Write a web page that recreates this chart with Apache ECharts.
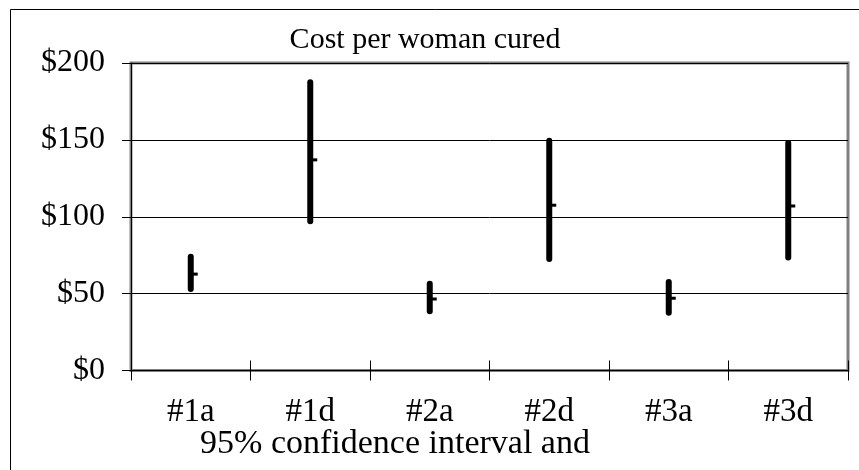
<!DOCTYPE html>
<html>
<head>
<meta charset="utf-8">
<script src="https://cdn.jsdelivr.net/npm/echarts@6/dist/echarts.min.js"></script>
<style>html,body{margin:0;padding:0;background:#fff;}#c{width:859px;height:470px;}</style>
</head>
<body>
<div id="c"></div>
<script>
var categories = ['#1a', '#1d', '#2a', '#2d', '#3a', '#3d'];
var lowValues = [53, 97, 38.5, 72.5, 37.5, 73.5];
var highValues = [74, 187.5, 56.5, 149.5, 57.5, 148];
var medianValues = [62.7, 137, 46.5, 107.5, 47, 107];
var yTicks = [0, 50, 100, 150, 200];

var FONT = '"Liberation Serif", "Times New Roman", serif';
var data = categories.map(function (c, i) {
  return [i, lowValues[i], highValues[i], medianValues[i]];
});

var chart = echarts.init(document.getElementById('c'), null, {renderer: 'canvas'});
var option = {
  backgroundColor: '#fff',
  animation: false,
  grid: {left: 131, right: 11, top: 63, bottom: 99.5, show: true, borderColor: '#808080', borderWidth: 3, backgroundColor: 'transparent'},
  xAxis: [{
    type: 'category', data: categories,
    axisLine: {lineStyle: {color: '#000', width: 1}},
    axisTick: {show: true, length: 10, lineStyle: {color: '#000', width: 1}},
    axisLabel: {color: '#000', fontFamily: FONT, fontSize: 33, margin: 25},
    splitLine: {show: false}
  }, {
    type: 'category', data: categories, position: 'bottom',
    axisLine: {show: false},
    axisTick: {show: true, inside: true, length: 10, lineStyle: {color: '#000', width: 1}},
    axisLabel: {show: false}
  }],
  yAxis: [{
    type: 'value', min: 0, max: 200, interval: 50,
    axisLine: {show: true, lineStyle: {color: '#000', width: 1}},
    axisTick: {show: true, length: 9, lineStyle: {color: '#000', width: 1}},
    axisLabel: {color: '#000', fontFamily: FONT, fontSize: 32, margin: 26,
      formatter: function (v) { return yTicks.indexOf(v) >= 0 ? '$' + v : ''; }},
    splitLine: {show: true, lineStyle: {color: '#000', width: 1}}
  }, {
    type: 'value', min: 0, max: 200, interval: 50, position: 'left',
    axisLine: {show: false},
    axisTick: {show: true, inside: true, length: 9, lineStyle: {color: '#000', width: 1}},
    axisLabel: {show: false},
    splitLine: {show: false}
  }],
  series: [{
    type: 'custom',
    data: data,
    encode: {x: 0, y: [1, 2, 3]},
    renderItem: function (params, api) {
      var lo = api.coord([api.value(0), api.value(1)]);
      var hi = api.coord([api.value(0), api.value(2)]);
      var md = api.coord([api.value(0), api.value(3)]);
      return {
        type: 'group',
        children: [{
          type: 'line',
          shape: {x1: lo[0], y1: lo[1], x2: hi[0], y2: hi[1]},
          style: {stroke: '#000', lineWidth: 6, lineCap: 'round'}
        }, {
          type: 'line',
          shape: {x1: md[0], y1: md[1], x2: md[0] + 7, y2: md[1]},
          style: {stroke: '#000', lineWidth: 3}
        }]
      };
    }
  }],
  graphic: [{
    type: 'rect', left: 10, top: 9, z: -10, silent: true,
    shape: {width: 900, height: 500},
    style: {fill: 'transparent', stroke: '#000', lineWidth: 1}
  }, {
    type: 'text', x: 425, y: 40, silent: true,
    style: {text: 'Cost per woman cured', fontFamily: FONT, fontSize: 30, fill: '#000', textAlign: 'center', textVerticalAlign: 'middle'}
  }, {
    type: 'text', x: 395, y: 444, silent: true,
    style: {text: '95% confidence interval and', fontFamily: FONT, fontSize: 34, fill: '#000', textAlign: 'center', textVerticalAlign: 'middle'}
  }]
};
chart.setOption(option);
</script>
</body>
</html>
